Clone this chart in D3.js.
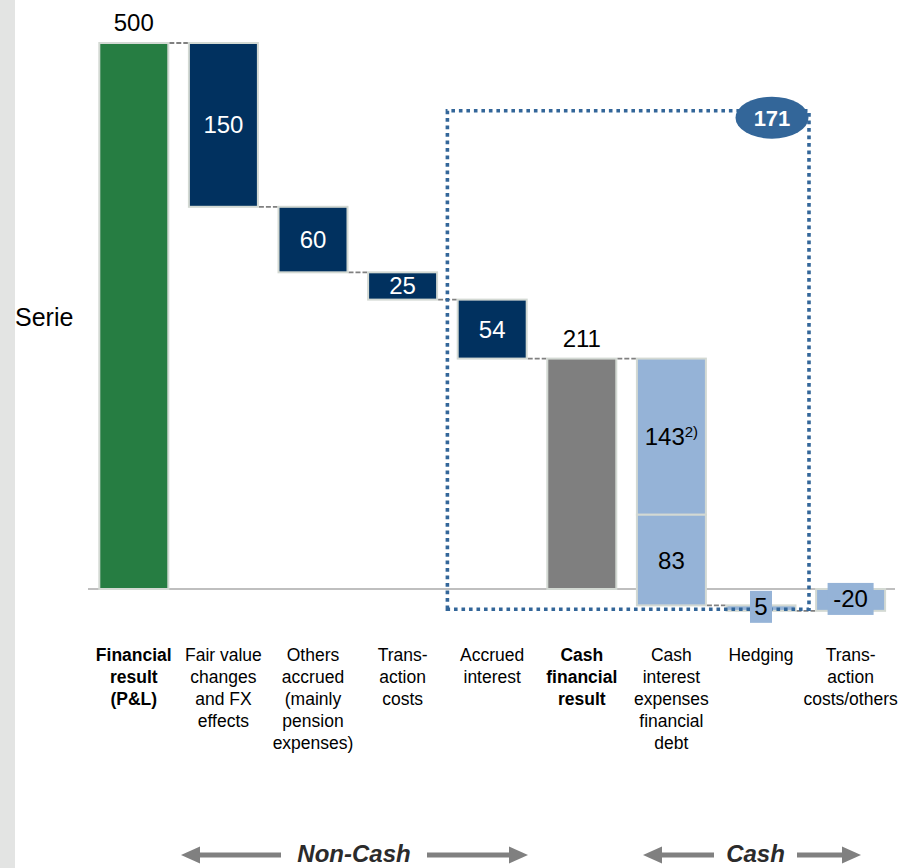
<!DOCTYPE html>
<html>
<head>
<meta charset="utf-8">
<script src="https://cdn.jsdelivr.net/npm/d3@7"></script>
<style>
  html, body { margin: 0; padding: 0; background: #ffffff; }
  svg { display: block; }
  text { font-family: "Liberation Sans", Arial, Helvetica, sans-serif; }
</style>
</head>
<body>
<svg id="chart" width="903" height="868"></svg>
<script>
// ---------- data ----------
const categories = [
  "Financial result (P&L)",
  "Fair value changes and FX effects",
  "Others accrued (mainly pension expenses)",
  "Trans-action costs",
  "Accrued interest",
  "Cash financial result",
  "Cash interest expenses financial debt",
  "Hedging",
  "Trans-action costs/others"
];
const categoryLines = [
  ["Financial", "result", "(P&L)"],
  ["Fair value", "changes", "and FX", "effects"],
  ["Others", "accrued", "(mainly", "pension", "expenses)"],
  ["Trans-", "action", "costs"],
  ["Accrued", "interest"],
  ["Cash", "financial", "result"],
  ["Cash", "interest", "expenses", "financial", "debt"],
  ["Hedging"],
  ["Trans-", "action", "costs/others"]
];
const boldCategories = ["Financial result (P&L)", "Cash financial result"];
const kinds  = ["total", "delta", "delta", "delta", "delta", "total", "stack", "delta", "total"];
const values = [500, -150, -60, -25, -54, 211, null, -5, -20];
const cashInterestParts = [-143, -83];
const cashInterestLabels = ["143", "83"];
const cashInterestSup = ["2)", ""];
const valueLabels = ["500", "150", "60", "25", "54", "211", null, "5", "-20"];
const seriesName = "Serie";
const bracketLabel = "171";
const bracketFrom = "Accrued interest";
const bracketTo = "Hedging";
const bracketTopValue = 438;
const bracketBottomValue = -18.5;
const groupLabels = ["Non-Cash", "Cash"];

// ---------- colours ----------
const C = {
  green: "#267d42", navy: "#01315f", grey: "#7f7f7f", light: "#95b3d7",
  border: "#d3d9d3", dotted: "#336699", connector: "#808080", axis: "#bfbfbf",
  strip: "#e3e4e3", arrow: "#808080"
};

// ---------- scales ----------
const svg = d3.select("#chart");
const x = d3.scaleBand().domain(categories).range([89, 895.4]).paddingInner(0.23).paddingOuter(0.115);
const y = d3.scaleLinear().domain([0, 500]).range([589, 43]);
const bw = x.bandwidth();

// left strip
svg.append("rect").attr("x", 0).attr("y", 0).attr("width", 15).attr("height", 868).attr("fill", C.strip);

// ---------- build waterfall segments ----------
let running = 0;
const segs = [];
const ends = [];
categories.forEach((cat, i) => {
  const k = kinds[i];
  if (k === "total") {
    const fill = i === 0 ? C.green : (values[i] < 0 ? C.light : C.grey);
    segs.push({cat, i, from: 0, to: values[i], fill, kind: k});
    running = values[i];
  } else if (k === "delta") {
    const fill = i === 7 ? C.light : C.navy;
    segs.push({cat, i, from: running, to: running + values[i], fill, kind: k});
    running += values[i];
  } else {
    cashInterestParts.forEach((p, j) => {
      segs.push({cat, i, from: running, to: running + p, fill: C.light, kind: "part", j});
      running += p;
    });
  }
  ends.push(running);
});

// baseline
svg.append("line").attr("x1", 88).attr("x2", 895).attr("y1", y(0)).attr("y2", y(0))
  .attr("stroke", C.axis).attr("stroke-width", 2);

// connectors
for (let i = 0; i < categories.length - 1; i++) {
  svg.append("line")
    .attr("x1", x(categories[i]) + bw + 1).attr("x2", x(categories[i + 1]) - 1)
    .attr("y1", y(ends[i])).attr("y2", y(ends[i]))
    .attr("stroke", C.connector).attr("stroke-width", 1.8).attr("stroke-dasharray", "5,2");
}

// bars
svg.selectAll("rect.bar").data(segs).enter().append("rect")
  .attr("class", "bar")
  .attr("x", d => x(d.cat))
  .attr("width", bw)
  .attr("y", d => y(Math.max(d.from, d.to)))
  .attr("height", d => Math.abs(y(d.from) - y(d.to)))
  .attr("fill", d => d.fill)
  .attr("stroke", C.border).attr("stroke-width", 2);

// bracket (dotted box)
const bx1 = x(bracketFrom) - x.step() * 0.115;
const bx2 = x(bracketTo) + bw + 13.5;
const by1 = y(bracketTopValue), by2 = y(bracketBottomValue);
svg.append("path")
  .attr("d", `M${bx1},${by2} L${bx1},${by1} L${bx2},${by1} L${bx2},${by2} Z`)
  .attr("fill", "none").attr("stroke", C.dotted).attr("stroke-width", 3.6)
  .attr("stroke-dasharray", "3.6,3.9");
svg.append("ellipse").attr("cx", bx2 - 37).attr("cy", by1 + 7).attr("rx", 36.5).attr("ry", 21)
  .attr("fill", C.dotted);
svg.append("text").attr("x", bx2 - 37).attr("y", by1 + 15).attr("text-anchor", "middle")
  .attr("font-size", 22).attr("font-weight", "bold").attr("fill", "#ffffff").text(bracketLabel);

// value labels
segs.forEach(d => {
  const cx = x(d.cat) + bw / 2;
  if (d.kind === "part") {
    const cy = (y(d.from) + y(d.to)) / 2;
    const t = svg.append("text").attr("x", cx).attr("y", cy + 8.5).attr("text-anchor", "middle")
      .attr("font-size", 24).attr("fill", "#000").text(cashInterestLabels[d.j]);
    if (cashInterestSup[d.j]) {
      t.append("tspan").attr("dy", -8).attr("font-size", 15).text(cashInterestSup[d.j]);
    }
    return;
  }
  const lbl = valueLabels[d.i];
  if (d.kind === "total" && d.to > 0) {
    svg.append("text").attr("x", cx).attr("y", y(d.to) - 12).attr("text-anchor", "middle")
      .attr("font-size", 24).attr("fill", "#000").text(lbl);
  } else if (d.fill === C.navy) {
    const cy = (y(d.from) + y(d.to)) / 2;
    svg.append("text").attr("x", cx).attr("y", cy + 8.5).attr("text-anchor", "middle")
      .attr("font-size", 24).attr("fill", "#fff").text(lbl);
  }
});
// boxed labels for small light-blue bars (drawn on top)
[7, 8].forEach(i => {
  const s = segs.find(d => d.i === i);
  const cx = x(s.cat) + bw / 2;
  const cy = i === 7 ? y(s.to) - 4 : (y(s.from) + y(s.to)) / 2 - 1;
  const w = i === 7 ? 22 : 46;
  svg.append("rect").attr("x", cx - w / 2).attr("y", cy - 16).attr("width", w).attr("height", 32)
    .attr("fill", C.light);
  svg.append("text").attr("x", cx).attr("y", cy + 8.5).attr("text-anchor", "middle")
    .attr("font-size", 24).attr("fill", "#000").text(valueLabels[i]);
});

// series name
svg.append("text").attr("x", 15).attr("y", 326).attr("font-size", 25).attr("fill", "#000").text(seriesName);

// category labels
categories.forEach((cat, i) => {
  const t = svg.append("text").attr("x", x(cat) + bw / 2).attr("y", 661)
    .attr("text-anchor", "middle").attr("font-size", 17.5).attr("fill", "#000")
    .attr("font-weight", boldCategories.includes(cat) ? "bold" : "normal");
  categoryLines[i].forEach((ln, j) => {
    t.append("tspan").attr("x", x(cat) + bw / 2).attr("dy", j === 0 ? 0 : 22).text(ln);
  });
});

// group arrows
function arrowGroup(label, xl, xr, textL, textR, cy) {
  const g = svg.append("g");
  const head = 19, hh = 8.5, sw = 5;
  g.append("rect").attr("x", xl + head - 1).attr("y", cy - sw / 2).attr("width", textL - (xl + head - 1)).attr("height", sw).attr("fill", C.arrow);
  g.append("path").attr("d", `M${xl},${cy} L${xl + head},${cy - hh} L${xl + head},${cy + hh} Z`).attr("fill", C.arrow);
  g.append("rect").attr("x", textR).attr("y", cy - sw / 2).attr("width", xr - head + 1 - textR).attr("height", sw).attr("fill", C.arrow);
  g.append("path").attr("d", `M${xr},${cy} L${xr - head},${cy - hh} L${xr - head},${cy + hh} Z`).attr("fill", C.arrow);
  g.append("text").attr("x", (textL + textR) / 2).attr("y", cy + 6.5).attr("text-anchor", "middle")
    .attr("font-size", 24).attr("font-weight", "bold").attr("font-style", "italic").attr("fill", "#2b2b2b")
    .text(label);
}
arrowGroup(groupLabels[0], 181, 528, 281, 427, 855);
arrowGroup(groupLabels[1], 643, 861, 714, 797, 855);
</script>
</body>
</html>
